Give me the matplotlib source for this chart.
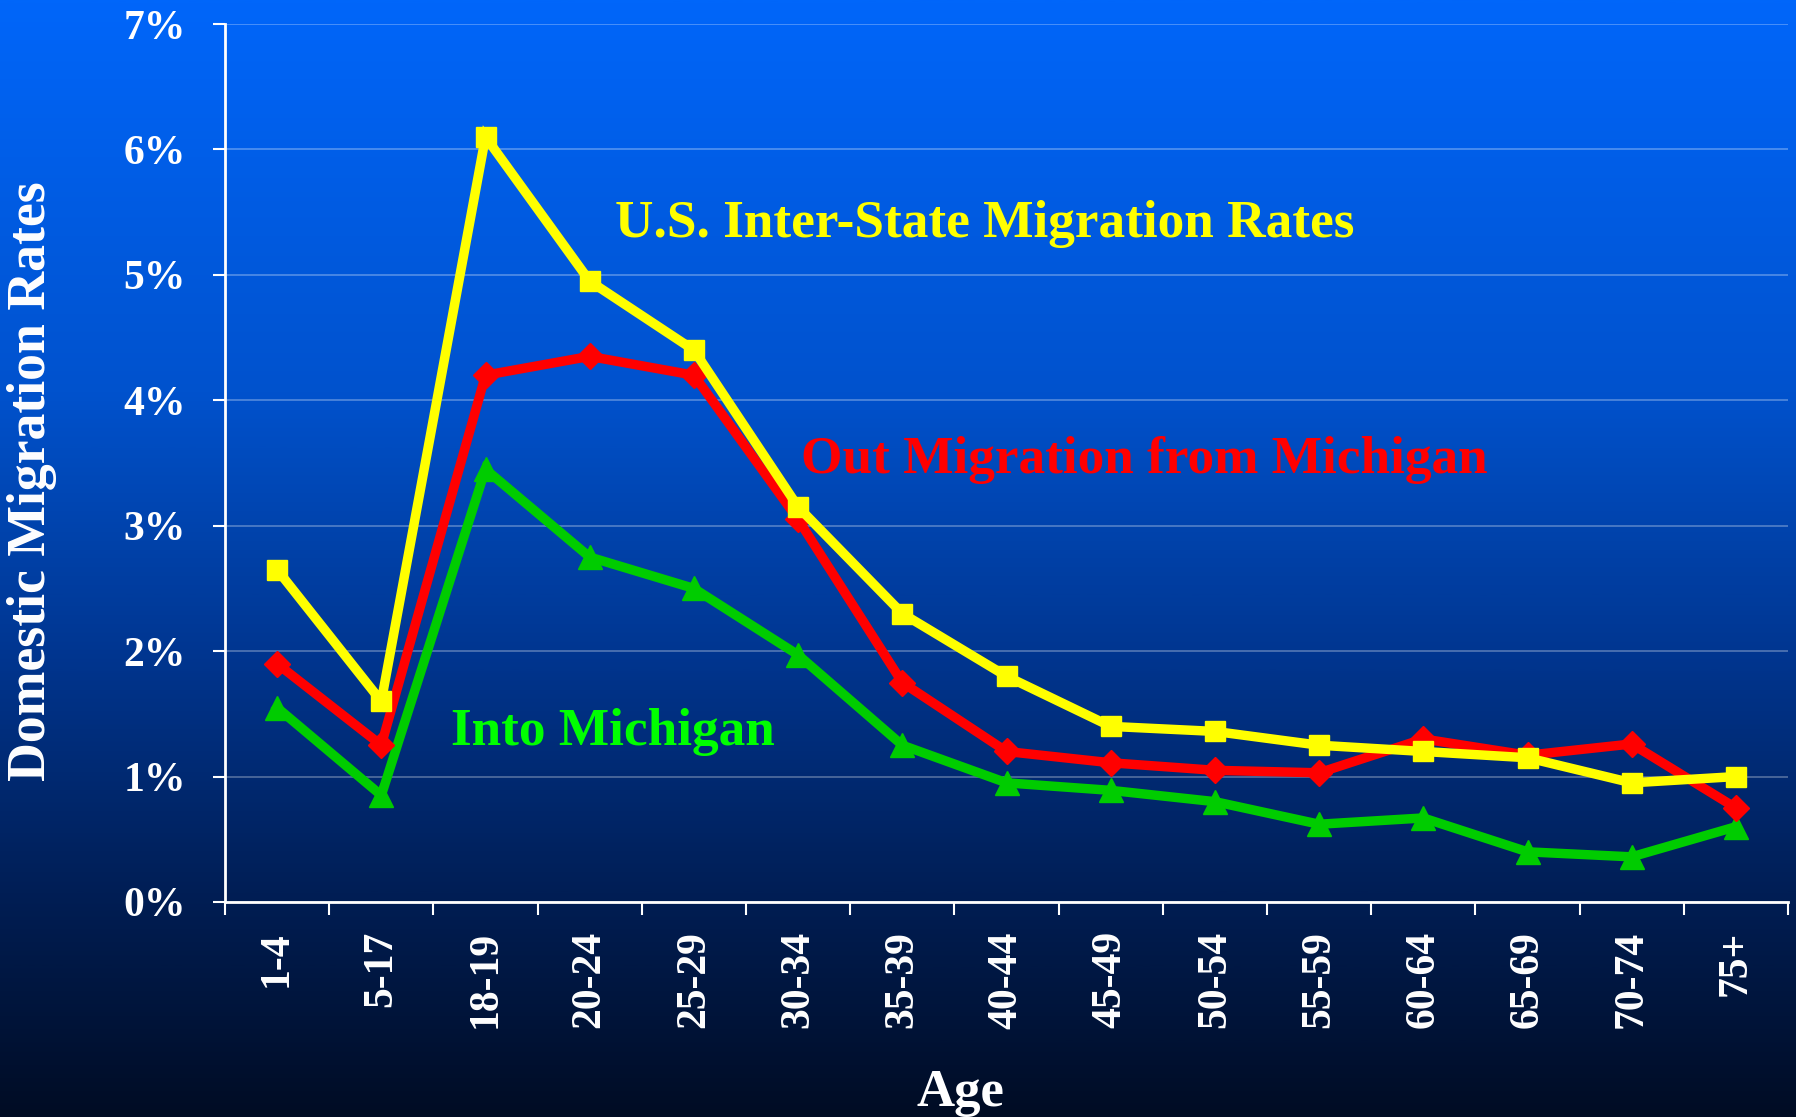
import numpy as np
import matplotlib
matplotlib.use("Agg")
import matplotlib.pyplot as plt
from matplotlib.colors import LinearSegmentedColormap

# ---- data ----
age_groups = ["1-4", "5-17", "18-19", "20-24", "25-29", "30-34", "35-39", "40-44",
              "45-49", "50-54", "55-59", "60-64", "65-69", "70-74", "75+"]
us_interstate = [2.65, 1.60, 6.10, 4.95, 4.40, 3.15, 2.30, 1.80, 1.40, 1.36, 1.25, 1.20, 1.15, 0.95, 1.00]
out_michigan = [1.90, 1.25, 4.20, 4.35, 4.20, 3.05, 1.75, 1.20, 1.11, 1.05, 1.03, 1.30, 1.17, 1.26, 0.75]
into_michigan = [1.55, 0.85, 3.45, 2.75, 2.50, 1.97, 1.25, 0.95, 0.89, 0.80, 0.62, 0.67, 0.40, 0.36, 0.60]
y_ticks = [0, 1, 2, 3, 4, 5, 6, 7]
y_tick_labels = ["0%", "1%", "2%", "3%", "4%", "5%", "6%", "7%"]

plt.rcParams['font.family'] = ['Liberation Serif', 'DejaVu Serif']
plt.rcParams['font.weight'] = 'bold'

W, H = 1796, 1117
fig = plt.figure(figsize=(W / 100, H / 100), dpi=100)

# background gradient
bg = fig.add_axes([0, 0, 1, 1], zorder=-10)
cmap = LinearSegmentedColormap.from_list(
    "bg", [(0.0, (0/255, 102/255, 250/255)),
           (0.35, (0/255, 82/255, 205/255)),
           (0.6, (0/255, 52/255, 140/255)),
           (0.8, (0/255, 30/255, 85/255)),
           (1.0, (0/255, 12/255, 36/255))])
grad = np.linspace(0, 1, 512).reshape(-1, 1)
bg.imshow(grad, aspect='auto', cmap=cmap, extent=[0, 1, 0, 1], origin='upper')
bg.set_axis_off()

left, right = 225 / W, 1788 / W
bottom, top = 1 - 902 / H, 1 - 24 / H
ax = fig.add_axes([left, bottom, right - left, top - bottom])
ax.set_facecolor('none')

x = np.arange(len(age_groups))
ax.plot(x, into_michigan, color='#00CC00', lw=6.8, marker='^', ms=17, zorder=3,
        solid_joinstyle='miter')
ax.plot(x, out_michigan, color='#FF0000', lw=6.8, marker='D', ms=13, zorder=4,
        solid_joinstyle='miter')
ax.plot(x, us_interstate, color='#FFFF00', lw=6.8, marker='s', ms=14, zorder=5,
        solid_joinstyle='miter')

ax.set_xlim(-0.5, len(age_groups) - 0.5)
ax.set_ylim(0, 7)

ax.set_yticks(y_ticks)
ax.set_yticklabels(y_tick_labels)
ax.tick_params(axis='y', colors='white', length=9, width=1.5, pad=19, labelsize=30)
for lab in ax.get_yticklabels():
    lab.set_fontweight('bold')

ax.set_xticks(np.arange(-0.5, len(age_groups), 1.0))
ax.set_xticklabels([])
ax.set_xticks(x, minor=True)
ax.set_xticklabels(age_groups, minor=True, rotation=90, fontsize=30, fontweight='bold',
                   color='white')
ax.tick_params(axis='x', which='major', colors='white', length=9, width=1.5)
ax.tick_params(axis='x', which='minor', length=0, pad=21)

ax.grid(axis='y', color='white', alpha=0.3, lw=1.3)
ax.set_axisbelow(True)
for s in ['top', 'right']:
    ax.spines[s].set_visible(False)
for s in ['left', 'bottom']:
    ax.spines[s].set_color('white')
    ax.spines[s].set_linewidth(2)

fig.text(32 / W, 1 - 481 / H, "Domestic Migration Rates", rotation=90, ha='center',
         va='center', color='white', fontsize=38.7, fontweight='bold')
fig.text(960 / W, 1 - 1093 / H, "Age", ha='center', va='center', color='white',
         fontsize=38, fontweight='bold')

fig.text(985 / W, 1 - 224 / H, "U.S. Inter-State Migration Rates", ha='center', va='center',
         color='#FFFF00', fontsize=38.3, fontweight='bold')
fig.text(1144 / W, 1 - 460 / H, "Out Migration from Michigan", ha='center', va='center',
         color='#FF0000', fontsize=38.3, fontweight='bold')
fig.text(613 / W, 1 - 732 / H, "Into Michigan", ha='center', va='center',
         color='#00FF00', fontsize=38.3, fontweight='bold')

fig.savefig("out.png", dpi=100)
